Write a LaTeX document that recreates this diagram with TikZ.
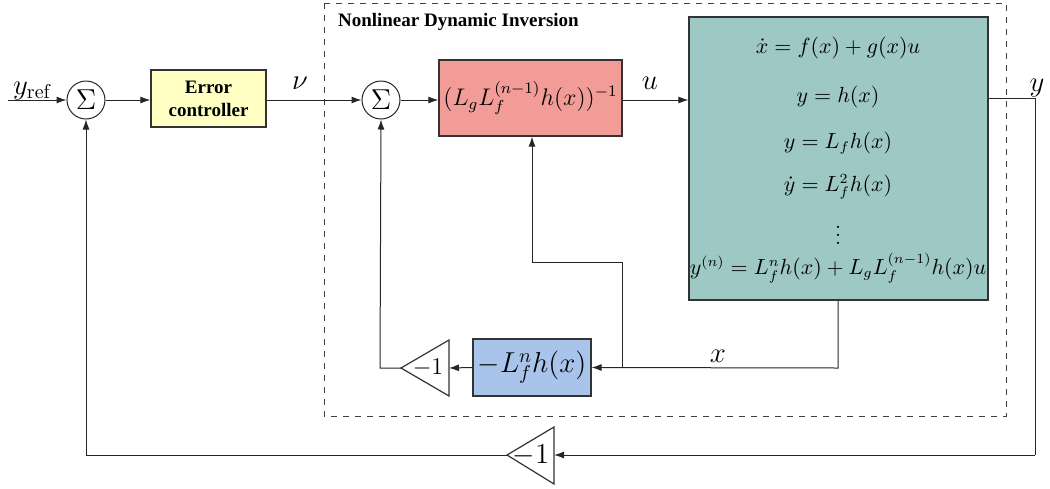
\documentclass[tikz,border=0pt]{standalone}
\usepackage{fontspec}
\newfontfamily\tbf{Liberation Serif}
\usetikzlibrary{arrows.meta}
\definecolor{ecyel}{HTML}{FFFFC4}
\definecolor{redbox}{HTML}{F19C97}
\definecolor{tealbox}{HTML}{9DC8C3}
\definecolor{bluebox}{HTML}{A9C4EB}
\begin{document}
\begin{tikzpicture}[x=0.5pt,y=-0.5pt,
  sig/.style={draw=black!85,line width=0.5pt},
  arr/.style={sig,-{Latex[length=5pt,width=3.5pt]}},
  sumc/.style={draw=black!85,circle,fill=white,minimum size=19pt,inner sep=0pt,line width=0.5pt},
  blk/.style={draw=black!80,line width=0.6pt,inner sep=0pt},
  lbl/.style={font=\Large},
  eqn/.style={font=\fontsize{10.7}{12}\selectfont,inner sep=0pt}]
\useasboundingbox (0,0) rectangle (1050,488);
% dashed frame
\draw[dashed,black!75,line width=0.5pt] (324,3) rectangle (1006,416);
\node[anchor=west,font=\tbf\bfseries\fontsize{9.5}{11}\selectfont] (title) at (331,22) {Nonlinear Dynamic Inversion};
% blocks
\node[sumc] (s1) at (86,100) {\Large$\Sigma$};
\node[blk,fill=ecyel,minimum width=57.5pt,minimum height=28.5pt,align=center,font=\tbf\bfseries\fontsize{9.5}{11.5}\selectfont] (ec) at (208.5,98.5) {Error\\controller};
\node[sumc] (s2) at (381,100) {\Large$\Sigma$};
\node[blk,fill=redbox,minimum width=91.5pt,minimum height=38pt] (inv) at (530.5,98) {\large$(L_gL_f^{(n-1)}h(x))^{-1}$};
\node[blk,fill=tealbox,minimum width=149.5pt,minimum height=141.5pt] (plant) at (838.5,158.5) {};
\node[blk,fill=bluebox,minimum width=59pt,minimum height=28.5pt] (lf) at (532,367.5) {\Large$-L_f^nh(x)$};
% plant equations
\node[eqn] (e1) at (838,48) {$\dot{x}=f(x)+g(x)u$};
\node[eqn] (e2) at (838,97) {$y=h(x)$};
\node[eqn] (e3) at (838,143) {$y=L_fh(x)$};
\node[eqn] (e4) at (838,187) {$\dot{y}=L_f^2h(x)$};
\node[eqn] (e5) at (838,229) {$\vdots$};
\node[eqn] (e6) at (838,268) {$y^{(n)}=L_f^nh(x)+L_gL_f^{(n-1)}h(x)u$};
% triangles
\draw[blk,fill=white] (401,368) -- (449,340) -- (449,396) -- cycle;
\node[inner sep=0pt] (g2) at (428,368) {\large$-1$};
\coordinate (g2tip) at (401,368);
\coordinate (g2base) at (449,368);
\draw[blk,fill=white] (507,455) -- (554,427) -- (554,484) -- cycle;
\node[inner sep=0pt] (g1) at (531,455) {\Large$-1$};
\coordinate (g1tip) at (507,455);
\coordinate (g1base) at (554,455);
% signals
\coordinate (in) at (8,100);
\draw[arr] (in) -- (s1);
\node[lbl,anchor=base] (yref) at (32,94) {$y_{\mathrm{ref}}$};
\draw[arr] (s1) -- (ec.west |- s1);
\draw[arr] (ec.east |- s2) -- (s2);
\node[lbl,anchor=base] (nu) at (300,89) {$\nu$};
\draw[arr] (s2) -- (inv.west |- s2);
\draw[arr] (inv.east |- s2) -- (plant.west |- s2);
\node[lbl,anchor=base] (ul) at (650,89) {$u$};
\coordinate (yo) at (1035,98);
\coordinate (yd) at (1035,455);
\draw[sig] (plant.east |- yo) -- (yo) -- (yd);
\draw[arr] (yd) -- (g1base);
\node[lbl,anchor=base] (yl) at (1037,91) {$y$};
\coordinate (fb1) at (86,455);
\draw[arr] (g1tip) -- (fb1) -- (s1.south);
\coordinate (xo) at (838,368);
\draw[arr] (plant.south -| xo) -- (xo) -- (lf.east);
\node[lbl,anchor=base] (xl) at (718,362) {$x$};
\coordinate (br) at (622,368);
\coordinate (br1) at (622,262);
\coordinate (br2) at (532,262);
\draw[arr] (br) -- (br1) -- (br2) -- (inv.south -| br2);
\draw[arr] (lf.west) -- (g2base);
\coordinate (fb2) at (380,368);
\draw[arr] (g2tip) -- (fb2) -- (s2.south);
\end{tikzpicture}
\end{document}
